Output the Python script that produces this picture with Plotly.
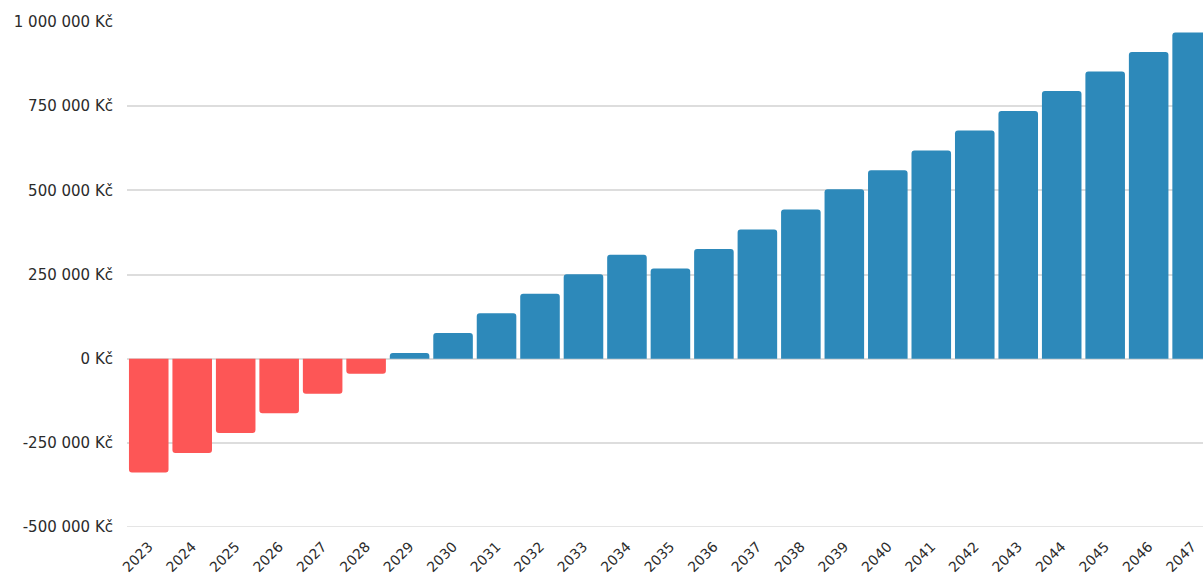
import plotly.graph_objects as go

years = [str(y) for y in range(2023, 2048)]
values = [-338000, -280000, -221000, -162000, -104000, -45000, 17000, 76000,
          135000, 193000, 251000, 309000, 268000, 326000, 384000, 443000,
          503000, 560000, 618000, 678000, 736000, 795000, 853000, 911000, 969000]

tick_vals = [-500000, -250000, 0, 250000, 500000, 750000, 1000000]
tick_text = ["-500 000 Kč", "-250 000 Kč", "0 Kč", "250 000 Kč", "500 000 Kč",
             "750 000 Kč", "1 000 000 Kč"]

RED = "#FD5656"
BLUE = "#2D89BA"
GRID = "#dddddd"
colors = [RED if v < 0 else BLUE for v in values]

fig = go.Figure(go.Bar(
    x=years, y=values,
    marker=dict(color=colors, line=dict(width=0), cornerradius=3),
))

fig.add_hline(y=tick_vals[0], line=dict(color=GRID, width=1.5), layer="below")

fig.update_layout(
    width=1203, height=579,
    margin=dict(l=127, r=0, t=22, b=52),
    paper_bgcolor="white", plot_bgcolor="white",
    bargap=0.09,
    showlegend=False,
    font=dict(family="DejaVu Sans, sans-serif", size=15, color="#2b2b2b"),
    xaxis=dict(
        type="category",
        range=[-0.5, 24.25],
        tickangle=-45,
        automargin=False,
        showgrid=False, zeroline=False, showline=False,
        ticks="outside", ticklen=5, tickcolor="rgba(0,0,0,0)",
        tickfont=dict(size=14),
    ),
    yaxis=dict(
        range=[-500000, 1000000],
        tickvals=tick_vals, ticktext=tick_text,
        automargin=False,
        showgrid=True, gridcolor=GRID, gridwidth=1.5,
        zeroline=False, showline=False,
        ticks="outside", ticklen=10, tickcolor="rgba(0,0,0,0)",
        tickfont=dict(size=15),
    ),
)

fig.write_html("out.html")
